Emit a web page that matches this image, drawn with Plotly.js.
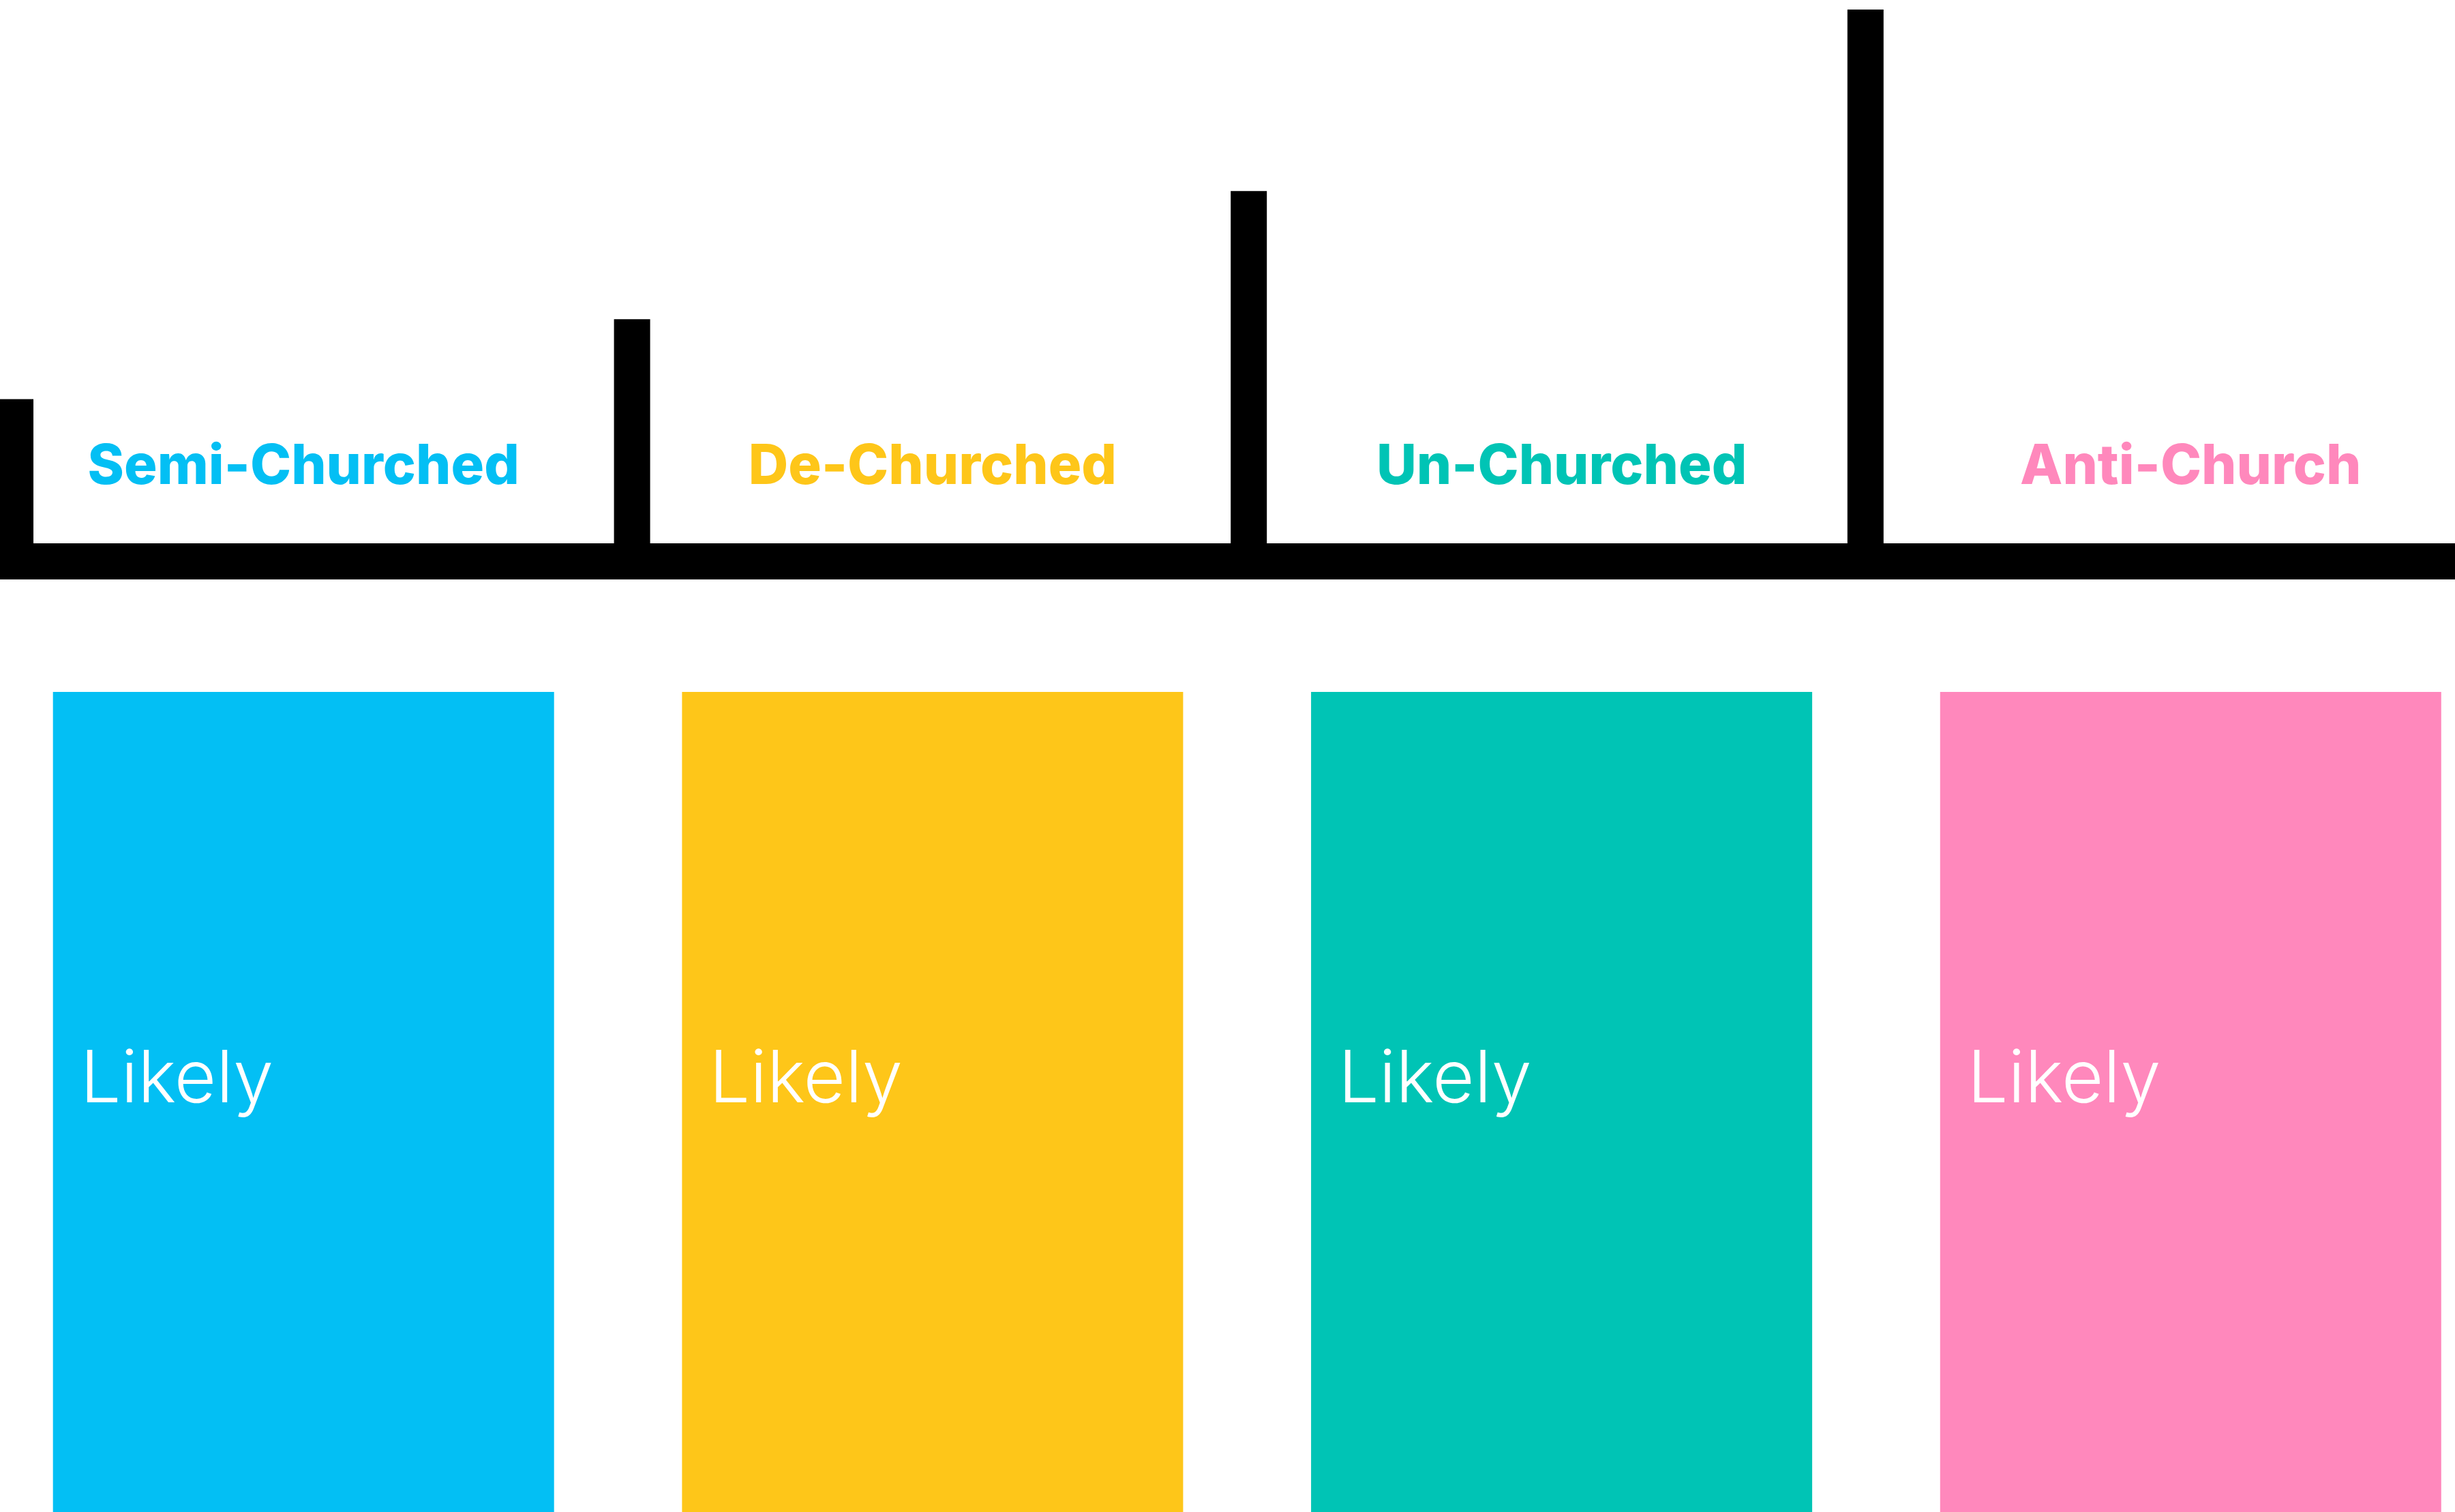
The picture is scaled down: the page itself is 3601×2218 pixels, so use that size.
<!DOCTYPE html>
<html>
<head>
<meta charset="utf-8">
<script src="https://cdn.plot.ly/plotly-3.0.1.min.js"></script>
<style>
  html, body { margin: 0; padding: 0; background: #ffffff; }
  #chart { width: 3601px; height: 2218px; }
</style>
</head>
<body>
<div id="chart"></div>
<script>
// ---- data ----
const categories = ['Semi-Churched', 'De-Churched', 'Un-Churched', 'Anti-Church'];
const stepHeights = [27, 42, 66, 100];      // relative height of each marker post
const cardValues = [1, 1, 1, 1];             // each card has the same height
const cardLabels = ['Likely', 'Likely', 'Likely', 'Likely'];

// ---- styles ----
const palette = ['#03BFF4', '#FEC619', '#00C4B5', '#FF88BC'];
const idx = categories.map((_, i) => i);

const STEP_W = 0.0586;   // post width (x2 units)
const CARD_W = 0.7966;   // card width (x units)
const HEAD_Y = 13.7;     // label height on the step axis
const LIKELY_Y = 0.522;  // label height on the card axis
const LIKELY_DX = -0.355;

const traces = [
  {
    type: 'bar', x: idx, y: stepHeights, base: 0, width: STEP_W,
    xaxis: 'x2', yaxis: 'y',
    marker: { color: '#000000', line: { width: 0 } },
    hoverinfo: 'skip', showlegend: false
  },
  {
    type: 'scatter', mode: 'text', x: idx, y: idx.map(() => HEAD_Y),
    text: categories, textposition: 'middle center',
    textfont: { family: 'Inter, Lato, sans-serif', size: 81, weight: 800, color: palette },
    xaxis: 'x', yaxis: 'y', hoverinfo: 'skip', showlegend: false
  },
  {
    type: 'bar', x: idx, y: cardValues, width: CARD_W,
    xaxis: 'x', yaxis: 'y2',
    marker: { color: palette, line: { width: 0 } },
    hoverinfo: 'skip', showlegend: false
  },
  {
    type: 'scatter', mode: 'text', x: idx.map(i => i + LIKELY_DX), y: idx.map(() => LIKELY_Y),
    text: cardLabels, textposition: 'middle right',
    textfont: { family: 'Inter, Lato, sans-serif', size: 106, weight: 300, color: '#ffffff' },
    xaxis: 'x', yaxis: 'y2', hoverinfo: 'skip', showlegend: false
  }
];

const hidden = { visible: false, showgrid: false, zeroline: false, showticklabels: false, fixedrange: true };

const layout = {
  width: 3601, height: 2218,
  margin: { l: 0, r: 0, t: 0, b: 0, pad: 0 },
  paper_bgcolor: '#ffffff', plot_bgcolor: 'rgba(0,0,0,0)',
  showlegend: false,
  xaxis: Object.assign({ domain: [0, 1], range: [-0.4825, 3.4202], anchor: 'y' }, hidden),
  xaxis2: Object.assign({ overlaying: 'x', range: [-0.0249, 3.9559], anchor: 'y' }, hidden),
  yaxis: Object.assign({ domain: [0, 1], range: [-181.5, 101.8], anchor: 'x' }, hidden),
  yaxis2: Object.assign({ overlaying: 'y', range: [0, 1.8437], anchor: 'x' }, hidden),
  shapes: [
    {
      type: 'rect', xref: 'x2', yref: 'y', layer: 'above',
      x0: -STEP_W / 2, x1: 3.9559,
      ysizemode: 'pixel', yanchor: 0, y0: -53, y1: 0,
      fillcolor: '#000000', line: { width: 0 }
    }
  ]
};

Plotly.newPlot('chart', traces, layout, { staticPlot: true, displayModeBar: false });
</script>
</body>
</html>
